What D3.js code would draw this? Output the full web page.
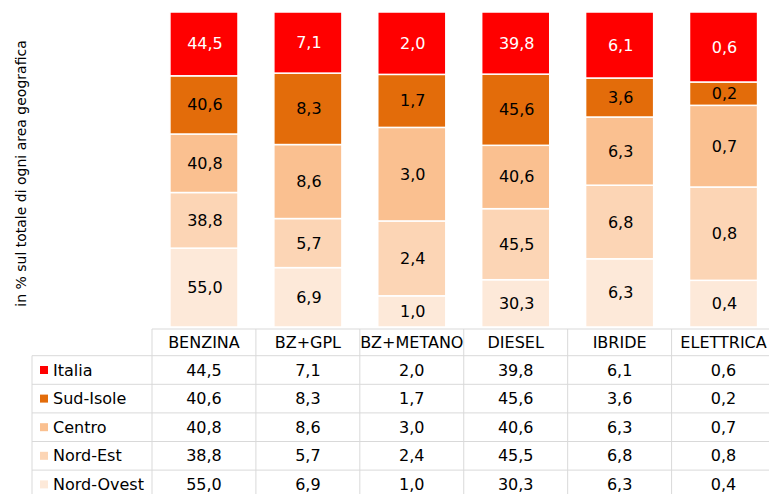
<!DOCTYPE html>
<html>
<head>
<meta charset="utf-8">
<script src="https://cdn.jsdelivr.net/npm/d3@7"></script>
<style>
  body { margin: 0; background: #fff; }
  svg { display: block; font-family: 'DejaVu Sans', sans-serif; }
</style>
</head>
<body>
<div id="chart"></div>
<script>
const categories = ['BENZINA', 'BZ+GPL', 'BZ+METANO', 'DIESEL', 'IBRIDE', 'ELETTRICA']
const areas = ['Italia', 'Sud-Isole', 'Centro', 'Nord-Est', 'Nord-Ovest']
const italia = [44.5, 7.1, 2.0, 39.8, 6.1, 0.6]
const sudIsole = [40.6, 8.3, 1.7, 45.6, 3.6, 0.2]
const centro = [40.8, 8.6, 3.0, 40.6, 6.3, 0.7]
const nordEst = [38.8, 5.7, 2.4, 45.5, 6.8, 0.8]
const nordOvest = [55.0, 6.9, 1.0, 30.3, 6.3, 0.4]
const yTitle = 'in % sul totale di ogni area geografica'

const seriesValues = {
  'Italia': italia,
  'Sud-Isole': sudIsole,
  'Centro': centro,
  'Nord-Est': nordEst,
  'Nord-Ovest': nordOvest
}

const colors = {
  'Italia': '#ff0000',
  'Sud-Isole': '#e36c0a',
  'Centro': '#fac090',
  'Nord-Est': '#fcd5b5',
  'Nord-Ovest': '#fde9d9'
}

const width = 769
const height = 494
const plot = { left: 152, right: 775.5, top: 12, bottom: 327 }
const table = { left: 32, top: 329, headerH: 26.7, rowH: 28.6 }

const fmt = v => v.toFixed(1).replace('.', ',')

/* one row per category, for d3.stack */
const rows = categories.map((c, i) => {
  const r = { category: c }
  areas.forEach(a => { r[a] = seriesValues[a][i] })
  return r
})

const stackKeys = areas.slice().reverse() // Nord-Ovest at the bottom
const stacked = d3.stack()
  .keys(stackKeys)
  .offset(d3.stackOffsetExpand)(rows)

const x = d3.scaleBand()
  .domain(categories)
  .range([plot.left, plot.right])
  .paddingInner(0.345)
  .paddingOuter(0.1725)

const xCell = d3.scaleBand()
  .domain(categories)
  .range([plot.left, plot.right])
  .padding(0)

const y = d3.scaleLinear()
  .domain([0, 1])
  .range([plot.bottom, plot.top])

const svg = d3.select('#chart')
  .append('svg')
  .attr('width', width)
  .attr('height', height)

/* y axis title */
svg.append('text')
  .attr('transform', `translate(21,${(plot.top + plot.bottom) / 2 + 4}) rotate(-90)`)
  .attr('text-anchor', 'middle')
  .attr('dominant-baseline', 'central')
  .attr('font-size', 14)
  .attr('fill', '#000')
  .text(yTitle)

/* stacked bars */
const layer = svg.append('g').attr('class', 'bars')
  .selectAll('g')
  .data(stacked)
  .join('g')
  .attr('fill', d => colors[d.key])

layer.selectAll('rect')
  .data(d => d.map(p => ({ key: d.key, p })))
  .join('rect')
  .attr('x', d => x(d.p.data.category))
  .attr('width', x.bandwidth())
  .attr('y', d => y(d.p[1]))
  .attr('height', d => y(d.p[0]) - y(d.p[1]))
  .attr('stroke', '#fff')
  .attr('stroke-width', 1.5)

layer.selectAll('text')
  .data(d => d.map(p => ({ key: d.key, p })))
  .join('text')
  .attr('x', d => x(d.p.data.category) + x.bandwidth() / 2 + 1)
  .attr('y', d => (y(d.p[0]) + y(d.p[1])) / 2)
  .attr('text-anchor', 'middle')
  .attr('dominant-baseline', 'central')
  .attr('font-size', 16)
  .attr('fill', d => d.key === 'Italia' ? '#fff' : '#000')
  .text(d => fmt(d.p.data[d.key]))

/* data table */
const gridColor = '#d9d9d9'
const tableG = svg.append('g').attr('class', 'table')
const bodyTop = table.top + table.headerH
const rowY = i => bodyTop + i * table.rowH
const tableBottom = rowY(areas.length)

// header cells
tableG.append('line')
  .attr('x1', plot.left).attr('x2', width)
  .attr('y1', table.top).attr('y2', table.top)
  .attr('stroke', gridColor)

tableG.selectAll('.vline')
  .data(categories)
  .join('line')
  .attr('class', 'vline')
  .attr('x1', d => xCell(d)).attr('x2', d => xCell(d))
  .attr('y1', table.top).attr('y2', tableBottom)
  .attr('stroke', gridColor)

tableG.append('line')
  .attr('x1', table.left).attr('x2', table.left)
  .attr('y1', bodyTop).attr('y2', tableBottom)
  .attr('stroke', gridColor)

tableG.selectAll('.hline')
  .data(d3.range(areas.length + 1))
  .join('line')
  .attr('class', 'hline')
  .attr('x1', table.left).attr('x2', width)
  .attr('y1', i => rowY(i)).attr('y2', i => rowY(i))
  .attr('stroke', gridColor)

tableG.selectAll('.head')
  .data(categories)
  .join('text')
  .attr('class', 'head')
  .attr('x', d => xCell(d) + xCell.bandwidth() / 2)
  .attr('y', table.top + table.headerH / 2)
  .attr('text-anchor', 'middle')
  .attr('dominant-baseline', 'central')
  .attr('font-size', 16)
  .text(d => d)

// legend column
const legendRow = tableG.selectAll('.legend')
  .data(areas)
  .join('g')
  .attr('class', 'legend')
  .attr('transform', (d, i) => `translate(0,${rowY(i) + table.rowH / 2})`)

legendRow.append('rect')
  .attr('x', 40)
  .attr('y', -4)
  .attr('width', 8)
  .attr('height', 8)
  .attr('fill', d => colors[d])

legendRow.append('text')
  .attr('x', 53)
  .attr('dominant-baseline', 'central')
  .attr('font-size', 16)
  .text(d => d)

// values
legendRow.selectAll('.val')
  .data(a => categories.map((c, i) => ({ c, v: seriesValues[a][i] })))
  .join('text')
  .attr('class', 'val')
  .attr('x', d => xCell(d.c) + xCell.bandwidth() / 2)
  .attr('text-anchor', 'middle')
  .attr('dominant-baseline', 'central')
  .attr('font-size', 16)
  .text(d => fmt(d.v))
</script>
</body>
</html>
